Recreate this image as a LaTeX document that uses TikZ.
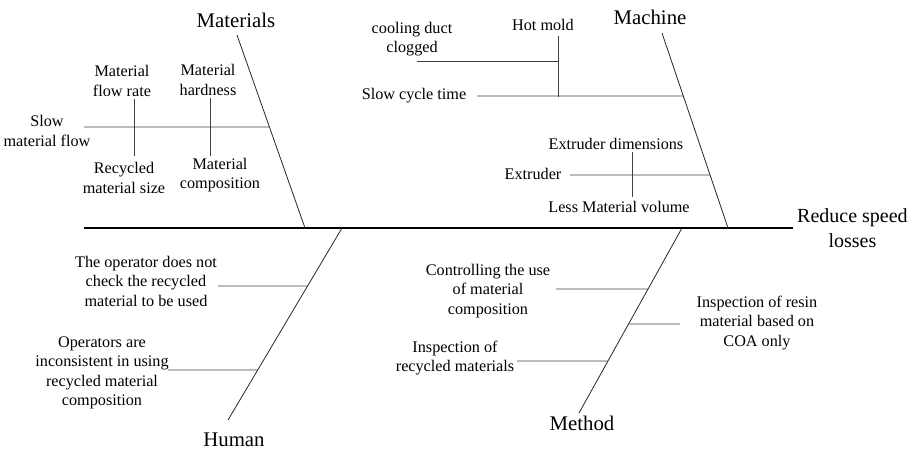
\documentclass[tikz,border=0pt]{standalone}
\usepackage{fontspec}
\setmainfont{Liberation Serif}
\usetikzlibrary{
    positioning,
    calc
}

\begin{document}
\begin{tikzpicture}[x=1pt,y=-1pt,
    cause/.style={font=\fontsize{16.2}{19.5}\selectfont, align=center, inner sep=0pt},
    category/.style={font=\fontsize{20.8}{24}\selectfont, inner sep=0pt},
    effectbox/.style={font=\fontsize{20}{25}\selectfont, align=center, inner sep=0pt},
    bone/.style={draw=black!85, line width=0.8pt},
    twig/.style={draw=black!75, line width=0.8pt}]
    \useasboundingbox (0,0) rectangle (922,450);
    % spine
    \coordinate (tail) at (84,228);
    \coordinate (head) at (793,228);
    \draw[line width=2.6pt] (tail) -- (head);
    \node[effectbox, right=4pt of head] (effect) {Reduce speed\\losses};
    % main bones
    \coordinate (matTop) at (237,35);   \coordinate (matFoot) at (305,228);
    \coordinate (macTop) at (662,33);   \coordinate (macFoot) at (728,228);
    \coordinate (humFoot) at (342,228); \coordinate (humEnd) at (228,420);
    \coordinate (metFoot) at (682,228); \coordinate (metEnd) at (579,413);
    \draw[bone] (matTop) -- (matFoot);
    \draw[bone] (macTop) -- (macFoot);
    \draw[bone] (humFoot) -- (humEnd);
    \draw[bone] (metFoot) -- (metEnd);
    \node[category] (materials) at (236,20) {Materials};
    \node[category] (machine) at (650,17) {Machine};
    \node[category] (human) at (234,440) {Human};
    \node[category] (method) at (582,423) {Method};
    % materials
    \coordinate (ma1) at ($(matTop)!0.477!(matFoot)$);
    \coordinate (ma1s) at (84,127);
    \draw[twig] (ma1s) -- (ma1);
    \coordinate (rateUp) at (134,99);  \coordinate (rateDn) at (134,156);
    \coordinate (hardUp) at (210,98);  \coordinate (hardDn) at (210,156);
    \draw[twig] (rateUp) -- (rateDn);
    \draw[twig] (hardUp) -- (hardDn);
    \node[cause] (slowflow) at (47,131) {Slow\\material flow};
    \node[cause] (flowrate) at (122,81) {Material\\flow rate};
    \node[cause] (hardness) at (208,80) {Material\\hardness};
    \node[cause] (recsize) at (124,178) {Recycled\\material size};
    \node[cause] (matcomp) at (220,175) {Material\\composition};
    % machine
    \coordinate (mc1) at ($(macTop)!0.323!(macFoot)$);
    \coordinate (mc2) at ($(macTop)!0.728!(macFoot)$);
    \coordinate (mc1s) at (477,96);
    \coordinate (mc2s) at (570,175);
    \draw[twig] (mc1s) -- (mc1);
    \draw[twig] (mc2s) -- (mc2);
    \coordinate (moldUp) at (558,36);  \coordinate (moldDn) at (558,97);
    \coordinate (ductL) at (417,61);   \coordinate (ductR) at (558,61);
    \draw[twig] (moldUp) -- (moldDn);
    \draw[twig] (ductL) -- (ductR);
    \coordinate (extUp) at (632,152);  \coordinate (extDn) at (632,197);
    \draw[twig] (extUp) -- (extDn);
    \node[cause] (cooling) at (412,39) {cooling duct\\clogged};
    \node[cause] (hotmold) at (543,25) {Hot mold};
    \node[cause] (cycle) at (414,96) {Slow cycle time};
    \node[cause] (extruder) at (533,174) {Extruder};
    \node[cause] (dims) at (616,144) {Extruder dimensions};
    \node[cause] (volume) at (619,207) {Less Material volume};
    % human
    \coordinate (hu1) at ($(humFoot)!0.302!(humEnd)$);
    \coordinate (hu2) at ($(humFoot)!0.740!(humEnd)$);
    \coordinate (hu1s) at (218,286);
    \coordinate (hu2s) at (168,370);
    \draw[twig] (hu1s) -- (hu1);
    \draw[twig] (hu2s) -- (hu2);
    \node[cause] (nocheck) at (146,281) {The operator does not\\check the recycled\\material to be used};
    \node[cause] (inconsistent) at (102,373) {Operators are\\inconsistent in using\\recycled material\\composition};
    % method
    \coordinate (me1) at ($(metFoot)!0.330!(metEnd)$);
    \coordinate (me2) at ($(metFoot)!0.519!(metEnd)$);
    \coordinate (me3) at ($(metFoot)!0.719!(metEnd)$);
    \coordinate (me1s) at (556,289);
    \coordinate (me2s) at (680,324);
    \coordinate (me3s) at (517,361);
    \draw[twig] (me1s) -- (me1);
    \draw[twig] (me2) -- (me2s);
    \draw[twig] (me3s) -- (me3);
    \node[cause] (controlling) at (488,291) {Controlling the use\\of material\\composition};
    \node[cause] (resin) at (757,323) {Inspection of resin\\material based on\\COA only};
    \node[cause] (recycled) at (455,358) {Inspection of\\recycled materials};
\end{tikzpicture}
\end{document}
